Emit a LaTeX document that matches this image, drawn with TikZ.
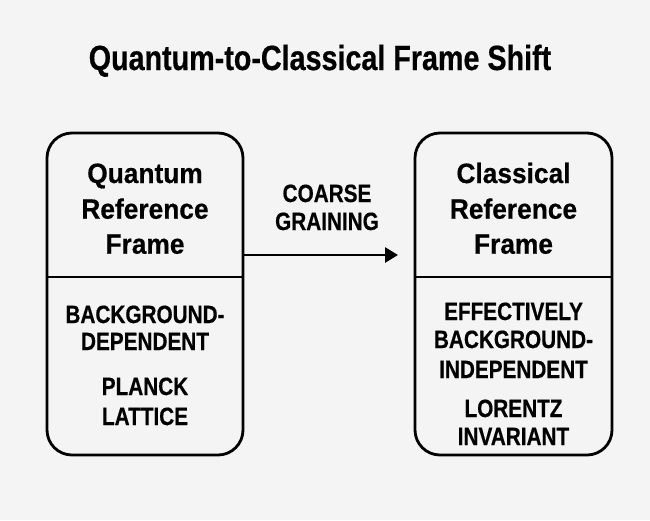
\documentclass[tikz,border=0pt]{standalone}
\usepackage{fontspec}
\setmainfont{Liberation Sans}
\newfontfamily\titlefont{Liberation Sans}[FakeStretch=0.82, BoldFeatures={FakeStretch=0.82, FakeBold=0.5}]
\newfontfamily\headfont{Liberation Sans}[FakeStretch=0.94, BoldFeatures={FakeStretch=0.94, FakeBold=0.5}]
\newfontfamily\bodyfont{Liberation Sans}[FakeStretch=0.83, BoldFeatures={FakeStretch=0.83, FakeBold=0.5}]
\usetikzlibrary{arrows.meta}
\definecolor{bg}{HTML}{F4F4F4}
\tikzset{
  framebox/.style={draw=black, line width=2.8pt, rounded corners=25pt},
  divider/.style={draw=black, line width=2.6pt},
  txt/.style={anchor=base, inner sep=0pt},
  conn/.style={draw=black, line width=2.8pt, -{Triangle[length=13pt,width=15pt]}}
}
\newcommand{\blk}[2]{{\setlength{\tabcolsep}{0pt}\fontsize{#1}{#1}\selectfont\begin{tabular}[t]{c}#2\end{tabular}}}
\begin{document}
\begin{tikzpicture}[x=1pt,y=-1pt]
\fill[bg] (0,0) rectangle (650,520);
\useasboundingbox (0,0) rectangle (650,520);
% title
\node[txt] (title) at (320,70) {\titlefont\bfseries\fontsize{35}{35}\selectfont Quantum-to-Classical Frame Shift};
% boxes
\draw[framebox] (47,133) rectangle (243,455);
\coordinate (lq1) at (47,277);
\coordinate (lq2) at (243,277);
\draw[divider] (lq1) -- (lq2);
\draw[framebox] (415,133) rectangle (612,455);
\coordinate (rq1) at (415,277);
\coordinate (rq2) at (612,277);
\draw[divider] (rq1) -- (rq2);
% headings
\node[txt] (qhead) at (145,183) {\headfont\bfseries\blk{28}{Quantum\\[7pt]Reference\\[7pt]Frame}};
\node[txt] (chead) at (513.5,183) {\headfont\bfseries\blk{28}{Classical\\[7pt]Reference\\[7pt]Frame}};
% body
\node[txt] (qb1) at (145,323) {\bodyfont\bfseries\blk{25}{BACKGROUND-\\[2pt]DEPENDENT}};
\node[txt] (qb2) at (145,395) {\bodyfont\bfseries\blk{25}{PLANCK\\[5pt]LATTICE}};
\node[txt] (cb1) at (513.5,320) {\bodyfont\bfseries\blk{25}{EFFECTIVELY\\[3pt]BACKGROUND-\\[5pt]INDEPENDENT}};
\node[txt] (cb2) at (513.5,417) {\bodyfont\bfseries\blk{25}{LORENTZ\\[3pt]INVARIANT}};
% arrow
\coordinate (a1) at (243,255);
\coordinate (a2) at (398,255);
\draw[conn] (a1) -- (a2);
\node[txt] (lab) at (327,202) {\bodyfont\bfseries\blk{25}{COARSE\\[3pt]GRAINING}};
\end{tikzpicture}
\end{document}
